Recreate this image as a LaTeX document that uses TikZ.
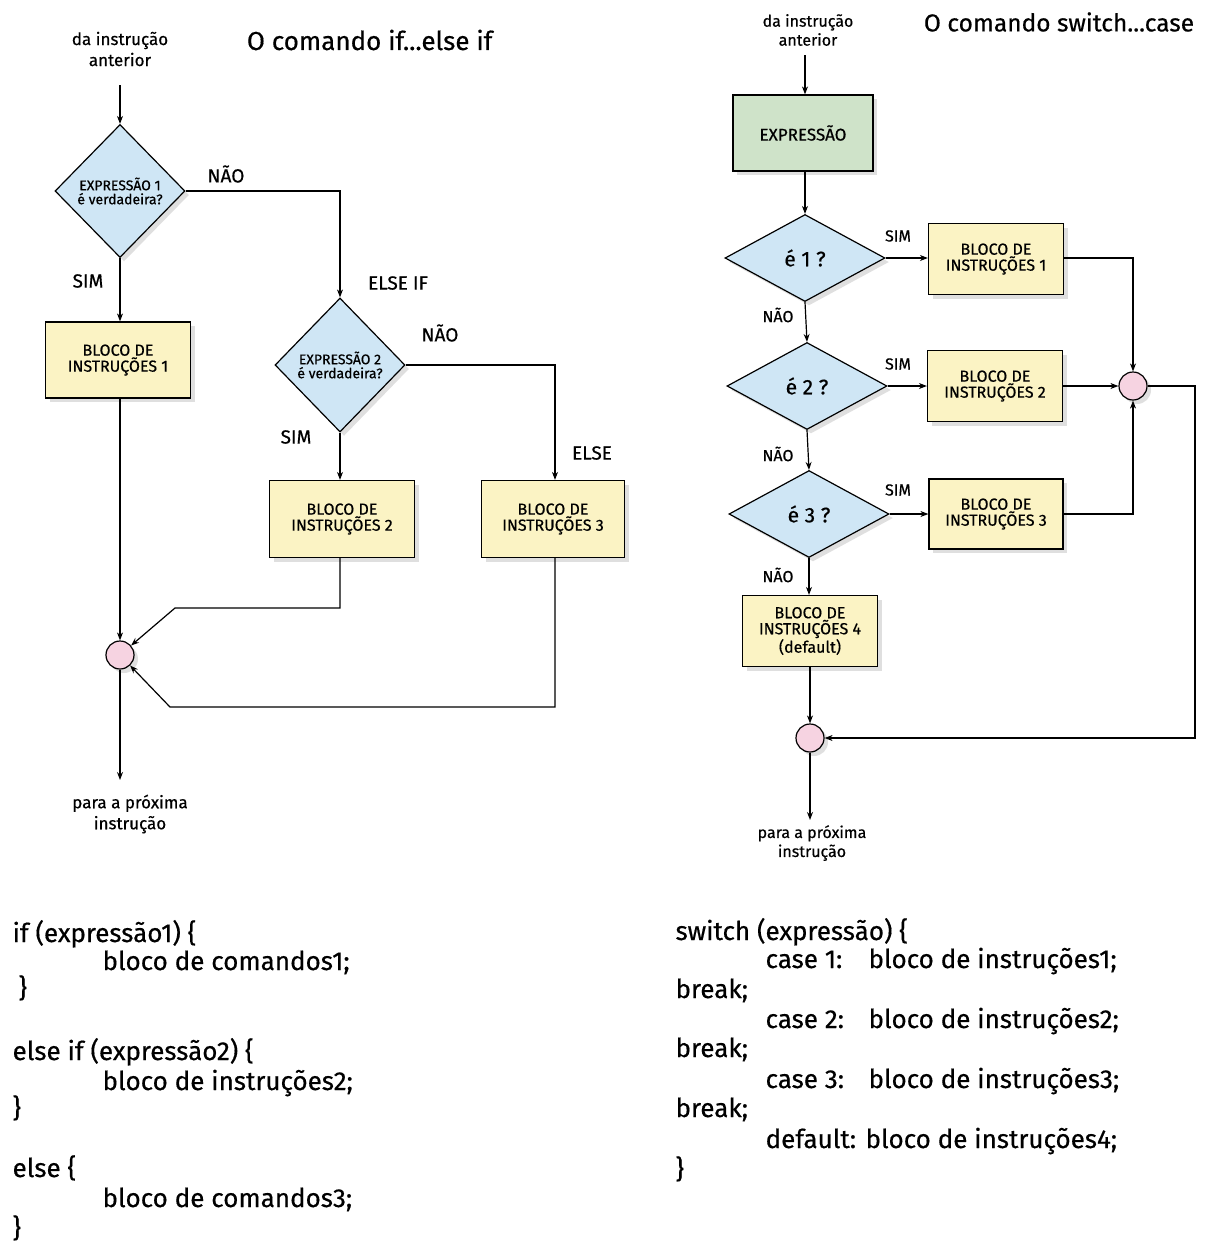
\documentclass[tikz,border=0pt]{standalone}
\usepackage{fontspec}
\setmainfont{Fira Sans}[FakeBold=0.5]
\usetikzlibrary{shapes.geometric,arrows.meta,shadows}
\definecolor{dblue}{HTML}{CFE6F5}
\definecolor{byellow}{HTML}{FBF3C4}
\definecolor{bgreen}{HTML}{CFE3C9}
\definecolor{mpink}{HTML}{F6D3E1}
\begin{document}
\begin{tikzpicture}[x=1pt,y=-1pt,
 line width=1.2pt,
 arr/.style={-{Stealth[length=8pt,width=6pt]}},
 shad/.style={drop shadow={shadow xshift=4pt,shadow yshift=-4pt,opacity=0.25}},
 dec/.style={diamond, draw, fill=dblue, inner sep=0pt, shad, align=center, font=\fontsize{14}{14}\selectfont},
 dec2/.style={dec, font=\fontsize{21}{21}\selectfont, minimum width=160pt, minimum height=87pt},
 blk/.style={rectangle, draw, fill=byellow, inner sep=0pt, shad, align=center, font=\fontsize{16}{16}\selectfont},
 mrg/.style={circle, draw, fill=mpink, minimum size=28pt, inner sep=0pt, shad},
 lbl/.style={font=\fontsize{19}{19}\selectfont},
 lbs/.style={font=\fontsize{16}{16}\selectfont},
 small/.style={font=\fontsize{17}{21}\selectfont, align=center},
 ttl/.style={font=\fontsize{26}{26}\selectfont, anchor=west},
 code/.style={font=\fontsize{26}{26}\selectfont, anchor=base west, inner sep=0pt}]
\useasboundingbox[fill=white] (0,0) rectangle (1207,1243);

% ---------------- left: if...else if ----------------
\node[small] (inL) at (120,49) {da instrução\\anterior};
\node[ttl] (tL) at (243,40) {O comando if...else if};
\coordinate (inLc) at (120,85);

\node[dec, minimum width=130pt, minimum height=133pt] (d1) at (120,191) {EXPRESSÃO 1\\é verdadeira?};
\node[blk, minimum width=145pt, minimum height=76pt] (b1) at (118,360) {BLOCO DE\\INSTRUÇÕES 1};
\node[dec, minimum width=130pt, minimum height=134pt] (d2) at (340,365) {EXPRESSÃO 2\\é verdadeira?};
\node[blk, minimum width=145pt, minimum height=77pt] (b2) at (342,519) {BLOCO DE\\INSTRUÇÕES 2};
\node[blk, minimum width=143pt, minimum height=77pt] (b3) at (553,519) {BLOCO DE\\INSTRUÇÕES 3};
\node[mrg] (m1) at (120,655) {};
\coordinate (outL) at (120,780);
\node[small] (nxL) at (130,814) {para a próxima\\instrução};

\node[lbl] (naoL1) at (226,174) {NÃO};
\node[lbl] (simL1) at (88,281) {SIM};
\node[lbl] (elseif) at (398,283) {ELSE IF};
\node[lbl] (naoL2) at (440,333) {NÃO};
\node[lbl] (simL2) at (296,437) {SIM};
\node[lbl] (elseL) at (592,453) {ELSE};

\draw[arr] (inLc) -- (d1.north);
\draw[arr] (d1.south) -- (b1.north -| d1.south);
\draw[arr] (d1.east) -- (340,191) -- (d2.north);
\draw[arr] (d2.south) -- (b2.north -| d2.south);
\draw[arr] (d2.east) -- (555,365) -- (b3.north -| 555,365);
\draw[arr] (b1.south -| 120,0) -- (m1.north);
\draw[arr] (b2.south -| 340,0) -- (340,608) -- (175,608) -- (m1);
\draw[arr] (b3.south -| 555,0) -- (555,707) -- (170,707) -- (m1);
\draw[arr] (m1.south) -- (outL);

% ---------------- right: switch...case ----------------
\node[small, font=\fontsize{16}{19}\selectfont] (inR) at (808,30) {da instrução\\anterior};
\node[ttl, font=\fontsize{24.5}{24.5}\selectfont] (tR) at (920,22) {O comando switch...case};
\coordinate (inRc) at (805,55);

\node[rectangle, draw, fill=bgreen, shad, minimum width=140pt, minimum height=76pt, font=\fontsize{17}{17}\selectfont] (ex) at (803,133) {EXPRESSÃO};
\node[dec2] (c1) at (805,258) {é 1 ?};
\node[dec2] (c2) at (807,386) {é 2 ?};
\node[dec2] (c3) at (809,514) {é 3 ?};
\node[blk, minimum width=135pt, minimum height=71pt] (s1) at (996,259) {BLOCO DE\\INSTRUÇÕES 1};
\node[blk, minimum width=135pt, minimum height=71pt] (s2) at (995,386) {BLOCO DE\\INSTRUÇÕES 2};
\node[blk, minimum width=134pt, minimum height=70pt] (s3) at (996,514) {BLOCO DE\\INSTRUÇÕES 3};
\node[blk, minimum width=135pt, minimum height=71pt] (s4) at (810,631) {BLOCO DE\\INSTRUÇÕES 4\\(default)};
\node[mrg] (m2) at (1133,386) {};
\node[mrg] (m3) at (810,738) {};
\coordinate (outR) at (810,820);
\node[small, font=\fontsize{16}{19}\selectfont] (nxR) at (812,843) {para a próxima\\instrução};

\node[lbs] (simR1) at (898,236) {SIM};
\node[lbs] (simR2) at (898,364) {SIM};
\node[lbs] (simR3) at (898,490) {SIM};
\node[lbs] (naoR1) at (778,315) {NÃO};
\node[lbs] (naoR2) at (778,454) {NÃO};
\node[lbs] (naoR3) at (778,575) {NÃO};

\draw[arr] (inRc) -- (ex.north -| inRc);
\draw[arr] (ex.south -| c1.north) -- (c1.north);
\draw[arr] (c1.east) -- (s1.west |- c1.east);
\draw[arr] (c2.east) -- (s2.west |- c2.east);
\draw[arr] (c3.east) -- (s3.west |- c3.east);
\draw[arr] (c1.south) -- (c2.north);
\draw[arr] (c2.south) -- (c3.north);
\draw[arr] (c3.south) -- (s4.north -| c3.south);
\draw[arr] (s1.east |- 0,258) -- (1133,258) -- (m2.north);
\draw[arr] (s2.east) -- (m2.west);
\draw[arr] (s3.east |- 0,514) -- (1133,514) -- (m2.south);
\draw[arr] (m2.east) -- (1195,386) -- (1195,738) -- (m3.east);
\draw[arr] (s4.south) -- (m3.north);
\draw[arr] (m3.south) -- (outR);

% ---------------- code ----------------
\node[code] (l1) at (12,942) {if (expressão1) \{};
\node[code] (l2) at (102,970) {bloco de comandos1;};
\node[code] (l3) at (18,997) {\}};
\node[code] (l4) at (12,1060) {else if (expressão2) \{};
\node[code] (l5) at (102,1090) {bloco de instruções2;};
\node[code] (l6) at (12,1117) {\}};
\node[code] (l7) at (12,1177) {else \{};
\node[code] (l8) at (102,1207) {bloco de comandos3;};
\node[code] (l9) at (12,1237) {\}};

\node[code] (r1) at (675,940) {switch (expressão) \{};
\node[code] (r2a) at (765,968) {case 1:};
\node[code] (r2b) at (868,968) {bloco de instruções1;};
\node[code] (r3) at (675,998) {break;};
\node[code] (r4a) at (765,1028) {case 2:};
\node[code] (r4b) at (868,1028) {bloco de instruções2;};
\node[code] (r5) at (675,1057) {break;};
\node[code] (r6a) at (765,1088) {case 3:};
\node[code] (r6b) at (868,1088) {bloco de instruções3;};
\node[code] (r7) at (675,1117) {break;};
\node[code] (r8a) at (765,1148) {default:};
\node[code] (r8b) at (865,1148) {bloco de instruções4;};
\node[code] (r9) at (675,1178) {\}};
\end{tikzpicture}
\end{document}
